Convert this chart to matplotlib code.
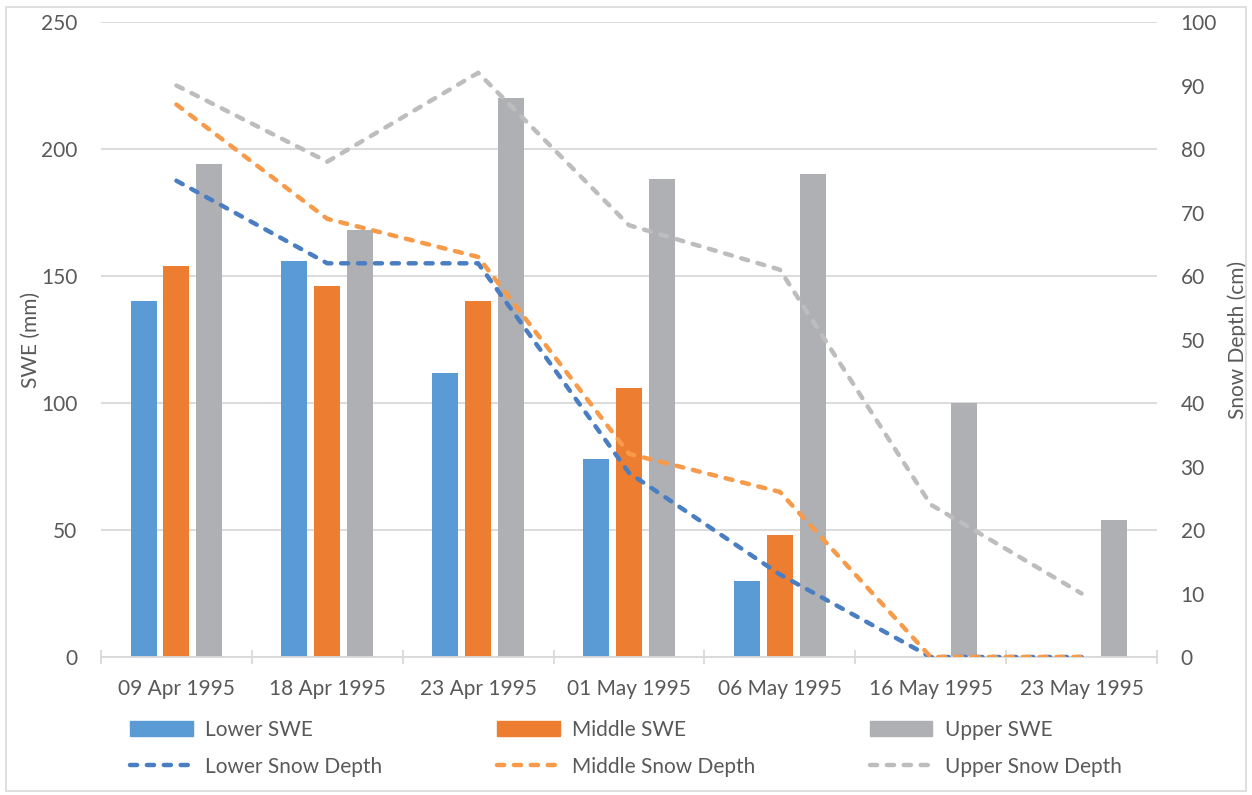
import matplotlib.pyplot as plt
import matplotlib.patches as mpatches
from matplotlib.lines import Line2D
import numpy as np

plt.rcParams['font.family'] = ['Lato', 'DejaVu Sans']

dates = ['09 Apr 1995', '18 Apr 1995', '23 Apr 1995', '01 May 1995',
         '06 May 1995', '16 May 1995', '23 May 1995']

# SWE (mm), left axis
lower_swe = [140, 156, 112, 78, 30, 0, 0]
middle_swe = [154, 146, 140, 106, 48, 0, 0]
upper_swe = [194, 168, 220, 188, 190, 100, 54]

# snow depth (cm), right axis
lower_depth = [75, 62, 62, 29, 13, 0, 0]
middle_depth = [87, 69, 63, 32, 26, 0, 0]
upper_depth = [90, 78, 92, 68, 61, 24, 10]

text_col = '#595959'
grid_col = '#D9D9D9'
bar_cols = ['#5B9BD5', '#ED7D31', '#AFB0B3']
line_cols = ['#4A7EC2', '#F79A4A', '#BDBDBF']
dash = (0, (1.6, 2.2))
lw = 3.2

fig = plt.figure(figsize=(12.52, 7.95), dpi=100)
ax = fig.add_axes([101 / 1252, 1 - 657 / 795, (1157 - 101) / 1252, (657 - 22) / 795])
ax2 = ax.twinx()

x = np.arange(len(dates))
w = 0.172
step = 0.218
for i, (vals, c) in enumerate(zip([lower_swe, middle_swe, upper_swe], bar_cols)):
    ax.bar(x + (i - 1) * step, vals, width=w, color=c, zorder=2)

for vals, c in zip([lower_depth, middle_depth, upper_depth], line_cols):
    ax2.plot(x, vals, color=c, lw=lw, linestyle=dash, dash_capstyle='round')

ax.set_xlim(-0.5, len(dates) - 0.5)
ax.set_ylim(0, 250)
ax2.set_ylim(0, 100)
ax.set_yticks(np.arange(0, 251, 50))
ax2.set_yticks(np.arange(0, 101, 10))
ax.grid(axis='y', color=grid_col, lw=1.3, zorder=0)
ax.set_axisbelow(True)

for a in (ax, ax2):
    for s in ('top', 'left', 'right', 'bottom'):
        a.spines[s].set_visible(False)
ax.spines['bottom'].set_visible(True)
ax.spines['bottom'].set_color(grid_col)
ax.spines['bottom'].set_linewidth(1.3)

ax.set_xticks(np.arange(-0.5, len(dates), 1.0))
ax.set_xticklabels([])
ax.tick_params(axis='x', which='major', direction='inout', length=10,
               color=grid_col, width=1.3)
ax.set_xticks(x, minor=True)
ax.set_xticklabels(dates, minor=True)
ax.tick_params(axis='x', which='minor', length=0, pad=16, labelsize=15, labelcolor=text_col)

ax.tick_params(axis='y', length=0, pad=17, labelsize=15, labelcolor=text_col)
ax2.tick_params(axis='y', length=0, pad=17, labelsize=15, labelcolor=text_col)

ax.set_ylabel('SWE (mm)', fontsize=15, color=text_col)
ax.yaxis.set_label_coords((41 - 101) / (1157 - 101), 0.5)
ax2.set_ylabel('Snow Depth (cm)', fontsize=15, color=text_col)
ax2.yaxis.set_label_coords((1227 - 101) / (1157 - 101), 0.5)

handles = [
    mpatches.Patch(color=bar_cols[0], label='Lower SWE'),
    Line2D([], [], color=line_cols[0], lw=lw, linestyle=dash,
           dash_capstyle='round', label='Lower Snow Depth'),
    mpatches.Patch(color=bar_cols[1], label='Middle SWE'),
    Line2D([], [], color=line_cols[1], lw=lw, linestyle=dash,
           dash_capstyle='round', label='Middle Snow Depth'),
    mpatches.Patch(color=bar_cols[2], label='Upper SWE'),
    Line2D([], [], color=line_cols[2], lw=lw, linestyle=dash,
           dash_capstyle='round', label='Upper Snow Depth'),
]
fig.legend(handles=handles, ncol=3, loc='lower left',
           bbox_to_anchor=(122 / 1252, 1 - 785 / 795, 1008 / 1252, 60 / 795),
           mode='expand', frameon=False, fontsize=15, labelcolor=text_col,
           handlelength=3.0, handletextpad=0.6, labelspacing=0.8,
           borderaxespad=0)

fig.add_artist(mpatches.Rectangle((6 / 1252, 4 / 795), 1240 / 1252, 784 / 795,
                                  transform=fig.transFigure, fill=False,
                                  ec=grid_col, lw=1.2))

fig.savefig('out.png', dpi=100)
